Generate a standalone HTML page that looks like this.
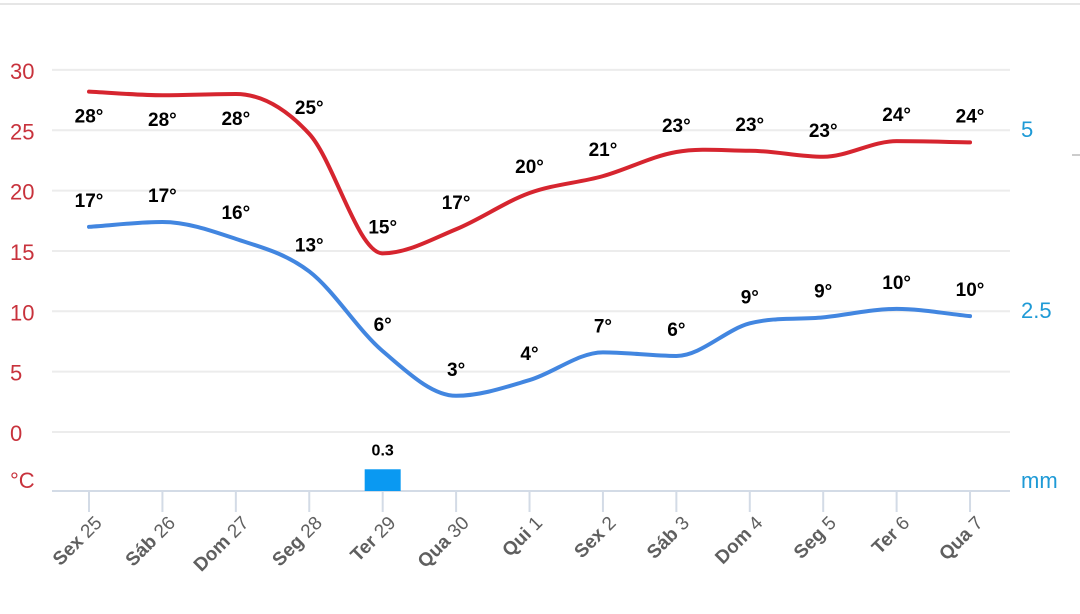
<!DOCTYPE html>
<html><head><meta charset="utf-8"><style>
body{margin:0;background:#fff;width:1080px;height:609px;overflow:hidden}
svg{font-family:"Liberation Sans",sans-serif}
</style></head><body>
<svg id="c" width="1080" height="609"></svg>
<script>
const days=["Sex|25","Sáb|26","Dom|27","Seg|28","Ter|29","Qua|30","Qui|1","Sex|2","Sáb|3","Dom|4","Seg|5","Ter|6","Qua|7"];
const highVals=[28.2,27.9,28.0,24.7,14.8,16.8,19.8,21.2,23.2,23.3,22.8,24.1,24.0];
const highLabels=[28,28,28,25,15,17,20,21,23,23,23,24,24];
const lowVals=[17.0,17.4,16.0,13.3,6.7,3.0,4.3,6.6,6.3,9.0,9.5,10.2,9.6];
const lowLabels=[17,17,16,13,6,3,4,7,6,9,9,10,10];
const rainVals=[0,0,0,0,0.3,0,0,0,0,0,0,0,0];
const tempTicks=[0,5,10,15,20,25,30];
const rainTicks=[2.5,5];

const svg=document.getElementById('c');const NS="http://www.w3.org/2000/svg";
function mk(t,a,p){const e=document.createElementNS(NS,t);for(const k in a)e.setAttribute(k,a[k]);(p||svg).appendChild(e);return e;}
const xS=i=>89+i*73.42;
const yT=v=>432-v*12.07;
const yR=v=>491-v*72.4;

let e=mk('line',{x1:0,y1:4,x2:1080,y2:4,stroke:'#e6e6e6','stroke-width':2});

e=mk('line',{x1:1072,y1:155,x2:1080,y2:155,stroke:'#ccc','stroke-width':2});


tempTicks.forEach(v=>{
 const g=mk('line',{x1:52,x2:1010,y1:yT(v),y2:yT(v),stroke:'#ececec','stroke-width':2});
 
 const t=mk('text',{x:10,y:yT(v)+9,fill:'#c8323c','font-size':22});t.textContent=v;
 
});
e=mk('text',{x:10,y:488,fill:'#c8323c','font-size':22});e.textContent='°C';

rainTicks.forEach(v=>{
 const t=mk('text',{x:1021,y:yR(v)+8,fill:'#1e9ad6','font-size':22});t.textContent=v;
 
});
e=mk('text',{x:1021,y:488,fill:'#1e9ad6','font-size':22});e.textContent='mm';


e=mk('line',{x1:52,x2:1010,y1:491,y2:491,stroke:'#d3dbe6','stroke-width':2});

days.forEach((d,i)=>{
 const x=xS(i);
 const tk=mk('line',{x1:x,x2:x,y1:491,y2:512,stroke:'#d3dbe6','stroke-width':2});
 
 const [a,b]=d.split('|');
 const ax=x+14, ay=524;
 const t=mk('text',{x:ax,y:ay,fill:'#5f5f5f','font-size':19,'text-anchor':'end',transform:`rotate(-45 ${ax} ${ay})`});
 
 const s1=mk('tspan',{'font-weight':'bold'},t);s1.textContent=a+' ';
 const s2=mk('tspan',{},t);s2.textContent=b;
});

rainVals.forEach((v,i)=>{
 if(v<=0)return;
 const r=mk('rect',{x:xS(i)-18,y:yR(v),width:36,height:491-yR(v),fill:'#0a99f2'});
 
 const t=mk('text',{x:xS(i),y:yR(v)-14,'font-size':16,'font-weight':'bold','text-anchor':'middle',fill:'#000'});
 t.textContent=v;
});

function path(vals){
 const p=vals.map((v,i)=>[xS(i),yT(v)]);const n=p.length;
 const dl=[],m=[];
 for(let i=0;i<n-1;i++)dl.push((p[i+1][1]-p[i][1])/(p[i+1][0]-p[i][0]));
 for(let i=0;i<n;i++){
  if(i==0)m.push(dl[0]);else if(i==n-1)m.push(dl[n-2]);
  else m.push(dl[i-1]*dl[i]<=0?0:(dl[i-1]+dl[i])/2);
 }
 let d=`M${p[0][0]},${p[0][1]}`;
 for(let i=0;i<n-1;i++){
  const h=(p[i+1][0]-p[i][0])/3;
  d+=` C${p[i][0]+h},${p[i][1]+m[i]*h} ${p[i+1][0]-h},${p[i+1][1]-m[i+1]*h} ${p[i+1][0]},${p[i+1][1]}`;
 }
 return d;
}
e=mk('path',{d:path(highVals),fill:'none',stroke:'#d6252f','stroke-width':4,'stroke-linecap':'round'});

e=mk('path',{d:path(lowVals),fill:'none',stroke:'#4286e0','stroke-width':4,'stroke-linecap':'round'});


highVals.forEach((v,i)=>{
 const y=i<3?yT(v)+31:yT(v)-20;
 const t=mk('text',{x:xS(i),y:y,'font-size':19,'font-weight':'bold','text-anchor':'middle',fill:'#000'});
 t.textContent=highLabels[i]+'°';
});
lowVals.forEach((v,i)=>{
 const t=mk('text',{x:xS(i),y:yT(v)-20,'font-size':19,'font-weight':'bold','text-anchor':'middle',fill:'#000'});
 t.textContent=lowLabels[i]+'°';
});
</script>
</body></html>
